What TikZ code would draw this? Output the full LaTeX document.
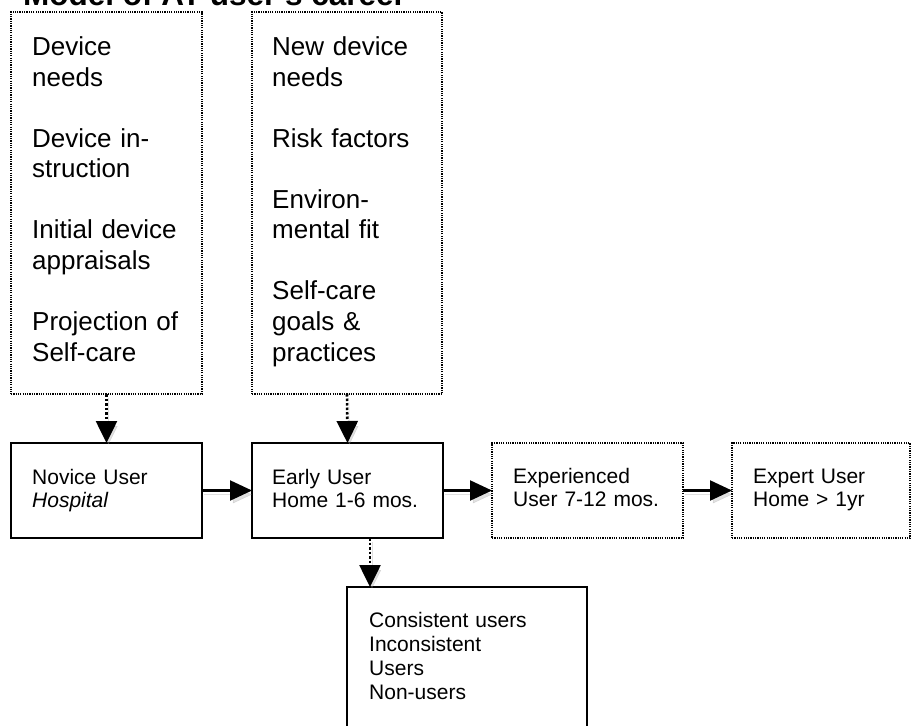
\documentclass[tikz,border=0pt]{standalone}
\usepackage{fontspec}
\setmainfont{Liberation Sans}
\usetikzlibrary{arrows.meta,calc}

\tikzset{
  x=1pt, y=-1pt,
  dotbox/.style={draw, line width=1.3pt, dash pattern=on 1.2pt off 1.1pt,
    anchor=north west, inner sep=0pt, outer sep=0pt},
  solidbox/.style={draw, line width=1.3pt, anchor=north west, inner sep=0pt, outer sep=0pt},
  bigtext/.style={anchor=base west, inner sep=0pt, text width=170pt, align=left,
    font=\fontsize{26}{30.5}\selectfont},
  smalltext/.style={anchor=base west, inner sep=0pt, text width=200pt, align=left,
    font=\fontsize{21}{23.5}\selectfont},
  softshadow/.style={preaction={draw=black!40, opacity=0.3,
    transform canvas={shift={(2pt,-4pt)}}}},
  dotarrow/.style={line width=2.6pt, dash pattern=on 2.5pt off 2pt,
    -{Triangle[length=22pt,width=21pt]}, softshadow},
  solidarrow/.style={line width=2.2pt, -{Triangle[length=22pt,width=20pt]}, softshadow},
}

\begin{document}
\begin{tikzpicture}
\useasboundingbox (0,0) rectangle (912,725);

% title (runs off the top edge)
\node[anchor=base west, inner sep=0pt, font=\fontsize{31.5}{36}\selectfont\bfseries]
  (title) at (23,6) {Model of AT user's career};

% factor boxes
\node[dotbox, minimum width=191pt, minimum height=382pt] (fac1) at (11,12) {};
\node[dotbox, minimum width=190pt, minimum height=382pt] (fac2) at (252,12) {};
\node[bigtext] (fac1t) at (32,56)
  {Device\\needs\\~\\Device in-\\struction\\~\\Initial device\\appraisals\\~\\Projection of\\Self-care};
\node[bigtext] (fac2t) at (272,56)
  {New device\\needs\\~\\Risk factors\\~\\Environ-\\mental fit\\~\\Self-care\\goals \&\\practices};

% career stages
\node[solidbox, minimum width=191pt, minimum height=95pt] (novice) at (11,443) {};
\node[solidbox, minimum width=191pt, minimum height=95pt] (early) at (252,443) {};
\node[dotbox, minimum width=191pt, minimum height=95pt] (exper) at (492,443) {};
\node[dotbox, minimum width=178pt, minimum height=95pt] (expert) at (732,443) {};

\node[smalltext] (novicet) at (32,484) {Novice User\\\textit{Hospital}};
\node[smalltext] (earlyt) at (272,484) {Early User\\Home 1-6 mos.};
\node[smalltext] (expert1) at (513,483) {Experienced\\User 7-12 mos.};
\node[smalltext] (expertt) at (753,483) {Expert User\\Home > 1yr};

% outcome box (continues below the page edge)
\node[solidbox, minimum width=240pt, minimum height=180pt] (res) at (347,587) {};
\node[smalltext, font=\fontsize{21}{24.3}\selectfont] (rest) at (369,627)
  {Consistent users\\Inconsistent\\Users\\Non-users};
\coordinate (resin) at ([xshift=23pt]res.north west);

% connectors
\draw[dotarrow] (fac1.south) -- (novice.north);
\draw[dotarrow] (fac2.south) -- (early.north);
\draw[solidarrow] (novice.east) -- (early.west);
\draw[solidarrow] (early.east) -- (exper.west);
\draw[solidarrow] (exper.east) -- (expert.west);
\draw[dotarrow] (early.south -| resin) -- (resin);
\end{tikzpicture}
\end{document}
